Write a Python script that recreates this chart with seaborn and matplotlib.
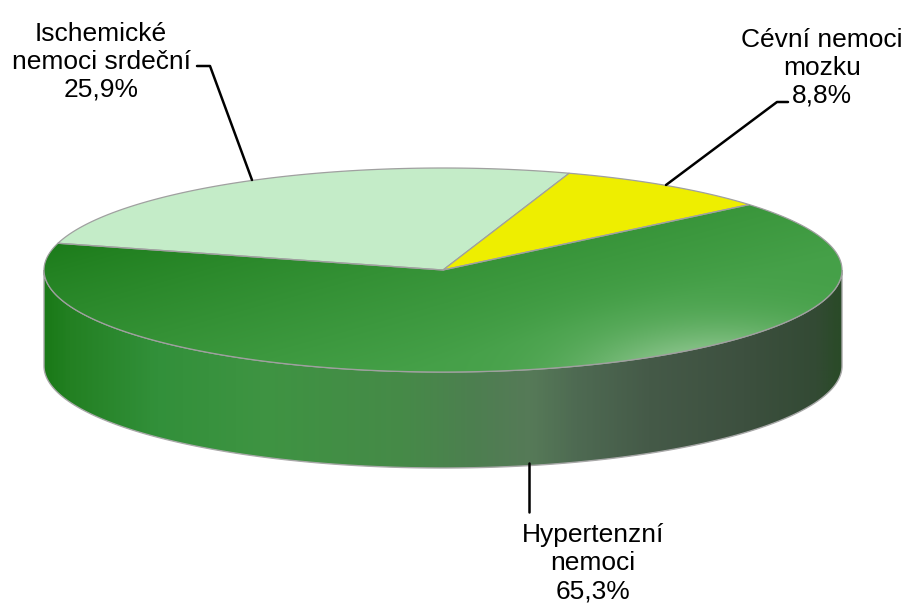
import numpy as np
import seaborn as sns
from matplotlib import pyplot as plt
from matplotlib.patches import Polygon
from matplotlib.colors import LinearSegmentedColormap, to_rgb

# data
CATEGORIES = ['Ischemické\nnemoci srdeční', 'Cévní nemoci\nmozku', 'Hypertenzní\nnemoci']
SHARES = [25.9, 8.8, 65.3]
COLORS = ['#c4ecc8', '#eeee00', '#3b983e']

# geometry of the 3d pie (pixels)
CX, CY = 443, 270
RX, RY = 399, 102
DEPTH = 96
START = 164.8

sns.set_style("white")
plt.rcParams['font.family'] = ['Liberation Sans', 'DejaVu Sans']

fig = plt.figure(figsize=(9.09, 6.03), dpi=100)
ax = fig.add_axes([0, 0, 1, 1])
ax.set_xlim(0, 909)
ax.set_ylim(603, 0)
ax.axis('off')


def pt(t):
    t = np.radians(t)
    return CX + RX * np.cos(t), CY - RY * np.sin(t)


# side wall (front half)
ts = np.linspace(180, 360, 200)
top = np.array([pt(t) for t in ts])
bot = top[::-1].copy()
bot[:, 1] += DEPTH
side = Polygon(np.vstack([top, bot]), closed=True, facecolor='none',
               edgecolor='#a8a8a8', lw=1.0, zorder=3)
ax.add_patch(side)
side_stops = [(0.0, '#1a7a18'), (0.03, '#238022'), (0.14, '#32903a'),
              (0.27, '#3e9442'), (0.45, '#468a48'), (0.54, '#4d7f50'),
              (0.61, '#567a58'), (0.67, '#4e6a52'), (0.76, '#455a48'),
              (0.88, '#3d503f'), (0.97, '#334a34'), (1.0, '#2a4a28')]
cmap_side = LinearSegmentedColormap.from_list('side', side_stops)
grad = np.linspace(0, 1, 400).reshape(1, -1)
im = ax.imshow(grad, cmap=cmap_side, aspect='auto', zorder=2,
               extent=[CX - RX, CX + RX, CY + RY + DEPTH + 2, CY - 2])
im.set_clip_path(side)

# top slices, clockwise from START
edges = START - np.concatenate([[0], np.cumsum(SHARES)]) * 3.6
for i, (share, col) in enumerate(zip(SHARES, COLORS)):
    arc = np.linspace(edges[i], edges[i + 1], 300)
    poly = np.vstack([[CX, CY], [pt(t) for t in arc]])
    p = Polygon(poly, closed=True, facecolor=col if i < 2 else 'none',
                edgecolor='#a0a0a0', lw=0.9, zorder=5)
    ax.add_patch(p)
    if i == 2:
        # shaded green surface
        h, w = 220, 820
        xx, yy = np.meshgrid(np.linspace(CX - RX, CX + RX, w),
                             np.linspace(CY - RY, CY + RY, h))
        d = ((xx - 50) * 0.5 + (yy - 240) * 1.8) / 420
        d = np.clip(d, 0, 1) ** 0.8
        dark = np.array(to_rgb('#1a7a18'))
        mid = np.array(to_rgb('#45a048'))
        light = np.array(to_rgb('#a6d2a6'))
        img = dark[None, None, :] * (1 - d[..., None]) + mid[None, None, :] * d[..., None]
        g = np.exp(-(((xx - 720) / 130) ** 2 + ((yy - 385) / 55) ** 2))
        img = img * (1 - g[..., None]) + light[None, None, :] * g[..., None]
        im2 = ax.imshow(img, extent=[CX - RX, CX + RX, CY + RY, CY - RY],
                        aspect='auto', zorder=4)
        im2.set_clip_path(p)

# labels (y = baseline of the last line)
lab_kw = dict(fontsize=19, ha='center', va='baseline', linespacing=1.2,
              color='black', zorder=6)
texts = [f'{c}\n{s:.1f}%'.replace('.', ',') for c, s in zip(CATEGORIES, SHARES)]
ax.text(101, 97, texts[0], **lab_kw)
ax.text(822, 103, texts[1], **lab_kw)
ax.text(593, 598, texts[2], **lab_kw)

# leader lines
ax.plot([197, 210, 252], [66, 66, 180], color='black', lw=1.8, zorder=6)
ax.plot([788, 777, 666], [102, 102, 185], color='black', lw=1.8, zorder=6)
ax.plot([529, 529], [463, 512], color='black', lw=1.8, zorder=6)

fig.savefig('out.png', dpi=100)
